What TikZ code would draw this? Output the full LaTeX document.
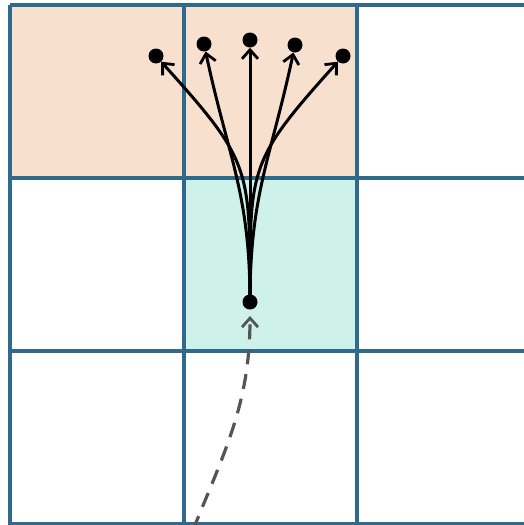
\documentclass[tikz,border=0pt]{standalone}
\usetikzlibrary{arrows.meta}
\definecolor{gridc}{HTML}{2E6A8C}
\definecolor{peach}{HTML}{F8E0CF}
\definecolor{teal}{HTML}{CEF2EA}
\definecolor{dashc}{HTML}{555555}
\begin{document}
\begin{tikzpicture}[x=1pt,y=-1pt,
  gridline/.style={draw=gridc,line width=3.4pt},
  dot/.style={circle,fill=black,inner sep=0pt,minimum size=15pt},
  fan/.style={draw=black,line width=3pt,-{Straight Barb[length=9pt,width=16pt,line width=2.8pt]}},
  prev/.style={draw=dashc,line width=3.2pt,dash pattern=on 15pt off 10pt,-{Straight Barb[length=9pt,width=16pt,line width=2.8pt]}}]
\useasboundingbox (0,0) rectangle (523,525);
\fill[peach] (10,5) rectangle (357,178);
\fill[teal] (184,178) rectangle (357,351);
\foreach \y in {5,178,351,524} \draw[gridline] (10,\y) -- (530,\y);
\foreach \x in {10,184,357} \draw[gridline] (\x,5) -- (\x,530);
\node[dot] (b) at (250,302) {};
\node[dot] (t1) at (156,56) {};
\node[dot] (t2) at (204,44) {};
\node[dot] (t3) at (250,40) {};
\node[dot] (t4) at (295,45) {};
\node[dot] (t5) at (343,56) {};
\coordinate (s) at (193,530);
\draw[fan] (b.center) to[out=90,in=-48,looseness=1.35] (t1);
\draw[fan] (b.center) to[out=90,in=-78,looseness=1.1] (t2);
\draw[fan] (b.center) -- (t3);
\draw[fan] (b.center) to[out=90,in=-102,looseness=1.1] (t4);
\draw[fan] (b.center) to[out=90,in=-132,looseness=1.35] (t5);
\draw[prev] (s) to[out=68,in=-90] (250,316);
\end{tikzpicture}
\end{document}
